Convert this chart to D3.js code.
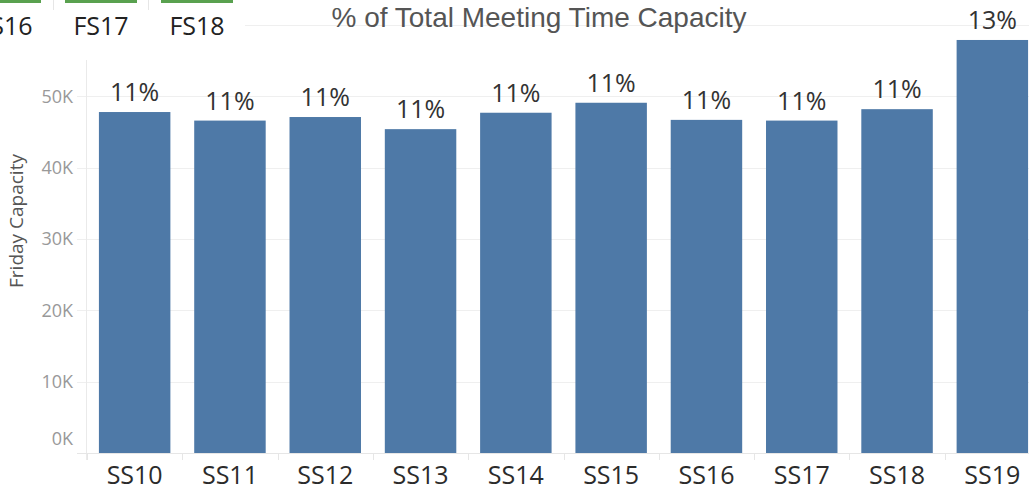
<!DOCTYPE html>
<html>
<head>
<meta charset="utf-8">
<script src="https://cdn.jsdelivr.net/npm/d3@7"></script>
<style>
  body { margin: 0; background: #fff; }
  svg { display: block; }
</style>
</head>
<body>
<svg id="chart"></svg>
<script>
// data
const terms = ["SS10", "SS11", "SS12", "SS13", "SS14", "SS15", "SS16", "SS17", "SS18", "SS19"];
const capacity = [47800, 46600, 47100, 45400, 47700, 49100, 46700, 46600, 48200, 57900];
const pctLabels = ["11%", "11%", "11%", "11%", "11%", "11%", "11%", "11%", "11%", "13%"];
const yTicks = [0, 10000, 20000, 30000, 40000, 50000, 60000];
const headerTabs = ["FS16", "FS17", "FS18"];

const width = 1029, height = 491;
const svg = d3.select("#chart").attr("width", width).attr("height", height);

//Scales
const x = d3.scaleBand().domain(terms).range([87, 1040]).paddingInner(0.25).paddingOuter(0.125);
const y = d3.scaleLinear().domain([0, 60000]).range([453, 25]);

//Gridlines (60K line is only visible right of the header tabs)
svg.append("g")
  .selectAll("line")
  .data(yTicks.slice(1))
  .join("line")
  .attr("x1", d => d === 60000 ? 245 : 77)
  .attr("x2", width)
  .attr("y1", d => Math.round(y(d)) + 0.5)
  .attr("y2", d => Math.round(y(d)) + 0.5)
  .attr("stroke", "#efefef");

//Pane border / zero line
svg.append("line")
  .attr("x1", 86.5).attr("x2", 86.5).attr("y1", 60).attr("y2", 460)
  .attr("stroke", "#eaeaea");
svg.append("line")
  .attr("x1", 77).attr("x2", width).attr("y1", 453.5).attr("y2", 453.5)
  .attr("stroke", "#e6e6e6");

//Band separator ticks under the axis
svg.append("g")
  .selectAll("line")
  .data(terms)
  .join("line")
  .attr("x1", d => Math.round(x(d) - x.step() * x.paddingInner() / 2) + 0.5)
  .attr("x2", d => Math.round(x(d) - x.step() * x.paddingInner() / 2) + 0.5)
  .attr("y1", 453).attr("y2", 460)
  .attr("stroke", "#e6e6e6");

//Y tick labels (0K is nudged up like Tableau does)
svg.append("g")
  .selectAll("text")
  .data(yTicks.slice(0, 6))
  .join("text")
  .attr("x", 73)
  .attr("y", d => d === 0 ? y(d) - 14 : y(d))
  .attr("dy", "0.35em")
  .attr("text-anchor", "end")
  .attr("font-family", "Open Sans, sans-serif")
  .attr("font-size", 18)
  .attr("fill", "#999")
  .text(d => d3.format("d")(d / 1000) + "K");

//Y axis title
svg.append("text")
  .attr("transform", "translate(23,221) rotate(-90)")
  .attr("text-anchor", "middle")
  .attr("font-family", "Open Sans, sans-serif")
  .attr("font-size", 19)
  .attr("fill", "#555")
  .text("Friday Capacity");

//Bars
const data = terms.map((t, i) => ({ term: t, value: capacity[i], label: pctLabels[i] }));
svg.append("g")
  .selectAll("rect")
  .data(data)
  .join("rect")
  .attr("x", d => x(d.term))
  .attr("width", x.bandwidth())
  .attr("y", d => y(d.value))
  .attr("height", d => y(0) - y(d.value))
  .attr("fill", "#4e79a7");

//Percent labels
svg.append("g")
  .selectAll("text")
  .data(data)
  .join("text")
  .attr("x", d => x(d.term) + x.bandwidth() / 2)
  .attr("y", d => y(d.value) - 11)
  .attr("text-anchor", "middle")
  .attr("font-family", "Open Sans, sans-serif")
  .attr("font-size", 25)
  .attr("fill", "#333")
  .text(d => d.label);

//X labels
svg.append("g")
  .selectAll("text")
  .data(terms)
  .join("text")
  .attr("x", d => x(d) + x.bandwidth() / 2)
  .attr("y", 484)
  .attr("text-anchor", "middle")
  .attr("font-family", "Open Sans, sans-serif")
  .attr("font-size", 25)
  .attr("fill", "#2b2b2b")
  .text(d => d);

//Title
svg.append("text")
  .attr("x", 539)
  .attr("y", 27)
  .attr("text-anchor", "middle")
  .attr("font-family", "Liberation Sans, Arial, sans-serif")
  .attr("font-size", 28)
  .attr("fill", "#555")
  .text("% of Total Meeting Time Capacity");

//Overlapping header tabs from the dashboard (top-left, partly cut off)
const tabX = [-31, 65, 161];
const tabs = svg.append("g");
tabs.selectAll("rect")
  .data(headerTabs)
  .join("rect")
  .attr("x", (d, i) => tabX[i])
  .attr("y", 0)
  .attr("width", 72)
  .attr("height", 3)
  .attr("fill", "#59a14f");
tabs.selectAll("text")
  .data(headerTabs)
  .join("text")
  .attr("x", (d, i) => tabX[i] + 36)
  .attr("y", 35)
  .attr("text-anchor", "middle")
  .attr("font-family", "Open Sans, sans-serif")
  .attr("font-size", 25)
  .attr("fill", "#222")
  .text(d => d);
tabs.selectAll("line")
  .data([53, 148])
  .join("line")
  .attr("x1", d => d + 0.5).attr("x2", d => d + 0.5)
  .attr("y1", 0).attr("y2", 10)
  .attr("stroke", "#e6e6e6");
</script>
</body>
</html>
